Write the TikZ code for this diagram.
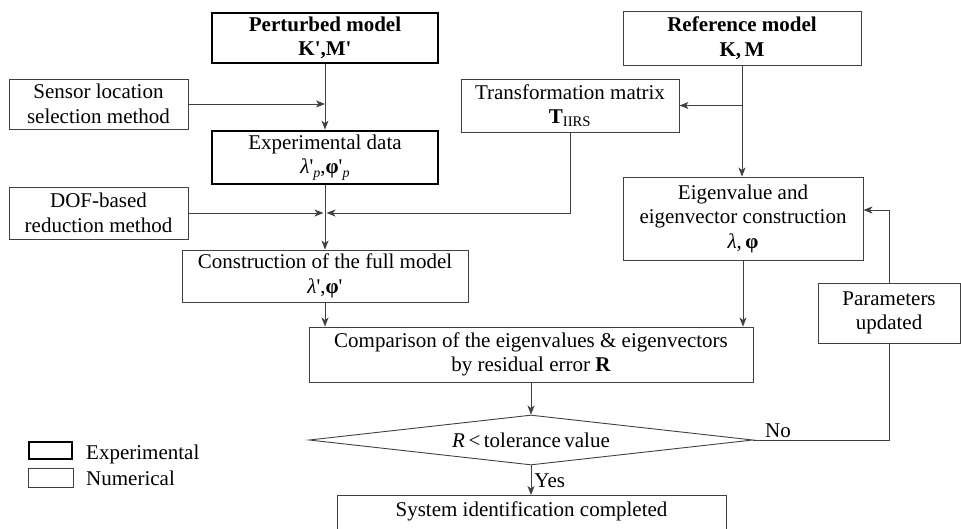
\documentclass[tikz,border=0pt]{standalone}
\usepackage{fontspec}
\setmainfont{Liberation Serif}
\usetikzlibrary{arrows.meta,shapes.geometric,calc}

\newcommand{\lam}{\textit{λ}}
\newcommand{\bphi}{\textbf{φ}}
\newcommand{\pr}{\textquotesingle}
\newcommand{\subp}{\raisebox{-4pt}{\fontsize{14}{14}\selectfont\textit{p}}}

\begin{document}
\begin{tikzpicture}[x=1pt,y=-1pt,
  every node/.style={font=\fontsize{21}{24.5}\selectfont},
  box/.style={draw=black!75, line width=0.9pt, rectangle, align=center, inner sep=0pt},
  expbox/.style={box, draw=black, line width=2.8pt},
  conn/.style={draw=black!75, line width=0.9pt},
  arr/.style={conn, -{Stealth[length=9pt,width=7pt,inset=2.5pt]}},
]
\useasboundingbox (0,0) rectangle (961,528);

% left column: experimental branch
\node[expbox, minimum width=226pt, minimum height=50pt] (pert) at (325,38)
  {\textbf{Perturbed model}\\\textbf{K\pr,M\pr}};
\node[box, minimum width=179pt, minimum height=50pt] (sensor) at (98.5,104)
  {Sensor location\\selection method};
\node[expbox, minimum width=226pt, minimum height=53pt] (exp) at (325,157.5)
  {Experimental data\\\lam\pr\subp,\bphi\pr\subp};
\node[box, minimum width=179pt, minimum height=52pt] (dof) at (98.5,213)
  {DOF-based\\reduction method};
\node[box, minimum width=286pt, minimum height=52pt] (cons) at (325,276)
  {Construction of the full model\\\lam\pr,\bphi\pr};

% right column: numerical branch
\node[box, minimum width=238pt, minimum height=54pt] (ref) at (742,38)
  {\textbf{Reference model}\\\textbf{K,\,M}};
\node[box, minimum width=218pt, minimum height=53pt] (tm) at (570,105.5)
  {Transformation matrix\\\textbf{T}\textsubscript{IIRS}};
\node[box, minimum width=240pt, minimum height=83pt] (eig) at (743,218.5)
  {Eigenvalue and\\eigenvector construction\\\lam,\,\bphi};
\node[box, minimum width=142pt, minimum height=60pt] (par) at (889,313)
  {Parameters\\updated};

% comparison, decision and end
\node[box, minimum width=444pt, minimum height=55pt] (cmp) at (531,354.5)
  {Comparison of the eigenvalues \& eigenvectors\\by residual error \textbf{R}};
\node[draw=black!75, line width=0.9pt, diamond, aspect=8.88, inner sep=0pt,
  minimum width=444pt, minimum height=50pt] (dec) at (531,440)
  {\textit{R}\,<\,tolerance\,value};
\node[box, anchor=north, minimum width=389pt, inner ysep=4pt,
  text height=17pt, text depth=30pt] (final) at (531.5,495)
  {System identification completed};

% legend
\node[expbox, minimum width=43pt, minimum height=17pt] (legE) at (50.5,450.5) {};
\node[box, minimum width=45pt, minimum height=19pt] (legN) at (50.5,477.5) {};
\node[anchor=base west, inner sep=0pt] (legEt) at (86,459) {Experimental};
\node[anchor=base west, inner sep=0pt] (legNt) at (86,485) {Numerical};

% connectors
\draw[arr] (pert) -- (exp);
\draw[arr] (sensor.east) -- (sensor.east -| pert.south);
\draw[arr] (ref.south) -- (ref.south |- eig.north);
\draw[arr] (ref.south |- tm.east) -- (tm.east);
\draw[arr] (exp) -- (cons);
\coordinate (j3) at (exp.south |- dof.east);
\draw[arr, shorten >=1.5pt] (dof.east) -- (j3);
\draw[arr, shorten >=1.5pt] (tm.south) |- (j3);
\draw[arr] (cons.south) -- (cons.south |- cmp.north);
\draw[arr] (eig.south) -- (eig.south |- cmp.north);
\draw[arr] (cmp) -- (dec);
\draw[arr] (dec.south) -- node[right, inner sep=3pt] {Yes} (dec.south |- final.north);
\draw[conn] (dec.east) -- node[pos=0, anchor=base west, xshift=8pt, yshift=3pt] {No}
  (dec.east -| par.south) -- (par.south);
\draw[arr] (par.north) |- ($(eig.east)+(0,-8.5)$);
\end{tikzpicture}
\end{document}
